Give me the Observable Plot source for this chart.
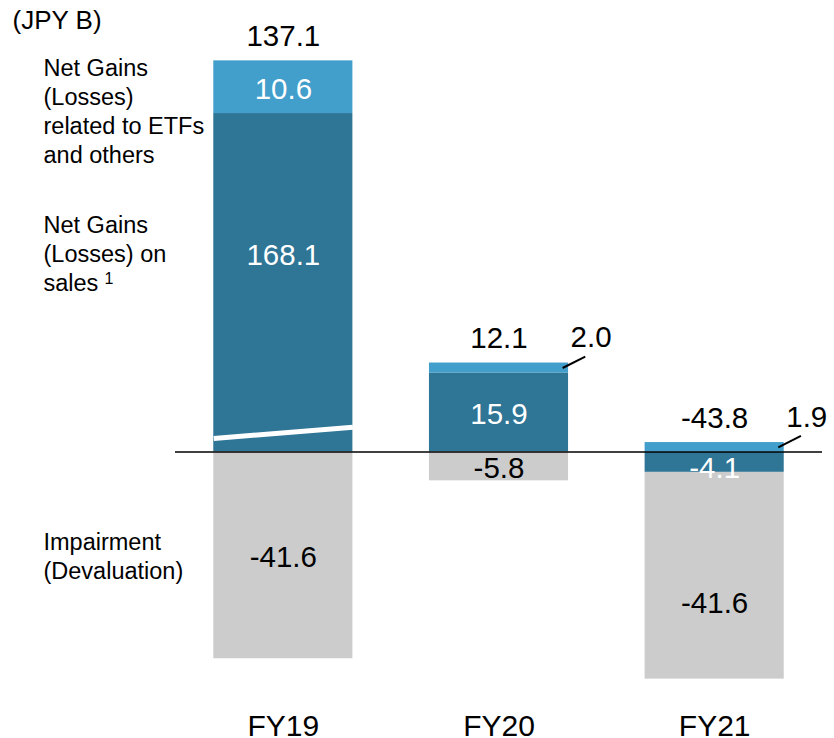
<!DOCTYPE html>
<html>
<head>
<meta charset="utf-8">
<script src="https://cdn.jsdelivr.net/npm/d3@7"></script>
<script src="https://cdn.jsdelivr.net/npm/@observablehq/plot@0.6"></script>
<style>
  html, body { margin: 0; padding: 0; background: #fff; }
  #chart svg { display: block; }
</style>
</head>
<body>
<div id="chart"></div>
<script>
// ---- data (JPY B) ----
const years = ["FY19", "FY20", "FY21"];
const salesGains = [168.1, 15.9, -4.1];   // Net Gains (Losses) on sales
const etfGains = [10.6, 2.0, 1.9];        // Net Gains (Losses) related to ETFs and others
const impairment = [-41.6, -5.8, -41.6];  // Impairment (Devaluation)
const totals = [137.1, 12.1, -43.8];

const seriesLabels = {
  etf: "Net Gains\n(Losses)\nrelated to ETFs\nand others",
  sales: "Net Gains\n(Losses) on\nsales",
  imp: "Impairment\n(Devaluation)"
};
const footnoteMark = "1";
const unitLabel = "(JPY B)";

// ---- style ----
const colors = {sales: "#2e7596", etf: "#429ecb", imp: "#cccccc"};
const halfWidth = 0.3225;
const numSize = 29.5, labelSize = 23.5, lineH = 29 / 23.5;

// diverging stack: sales, etf, impairment
const stacks = years.map((year, i) => {
  let pos = 0, neg = 0;
  const seg = {};
  for (const [key, arr] of [["sales", salesGains], ["etf", etfGains], ["imp", impairment]]) {
    const v = arr[i];
    if (v >= 0) { seg[key] = [pos, pos + v, v]; pos += v; }
    else { seg[key] = [neg, neg + v, v]; neg += v; }
  }
  return {i, year, ...seg, top: pos, bottom: neg, total: totals[i]};
});
const segRows = key => stacks.map(s => ({i: s.i, y1: s[key][0], y2: s[key][1], v: s[key][2]}));
const mid = r => (r.y1 + r.y2) / 2;
const fmt = v => v.toFixed(1);

// broken axis on FY19: values between 40 and 140 are cut out
const breakLo = 40, breakHi = 140;
const k = 4.97, zeroPx = 451.5;
const px = v => zeroPx - v * k;
const yScale = {
  transform: v => v > breakHi ? v - (breakHi - breakLo) : v > breakLo ? breakLo : v,
  domain: [-48, 80],
  range: [px(-48), px(80)],
  axis: null
};

const salesRows = segRows("sales"), etfRows = segRows("etf"), impRows = segRows("imp");
// inside labels
const inside = [
  ...salesRows.map(r => ({...r, fill: "white", dy: r.v < 0 ? 6 : 2})),
  {...etfRows[0], fill: "white", dy: 2},
  ...impRows.map(r => ({...r, fill: "black", dy: (r.i === 2 ? 28 : 2)}))
];
const outsideEtf = etfRows.filter(r => r.i > 0);

const insideMarks = inside.map(d =>
  Plot.text([d], {x: "i", y: r => mid(r), text: r => fmt(r.v), fill: d.fill, dy: d.dy, fontSize: numSize, lineAnchor: "middle"})
);

const chart = Plot.plot({
  width: 834,
  height: 738,
  marginLeft: 175,
  marginRight: 12,
  marginTop: 0,
  marginBottom: 0,
  x: {domain: [-0.5, 2.5], axis: null},
  y: yScale,
  style: {fontFamily: "'Liberation Sans', Arial, sans-serif", background: "white", color: "black"},
  marks: [
    Plot.rectY(salesRows, {x1: d => d.i - halfWidth, x2: d => d.i + halfWidth, y1: "y1", y2: "y2", fill: colors.sales}),
    Plot.rectY(etfRows, {x1: d => d.i - halfWidth, x2: d => d.i + halfWidth, y1: "y1", y2: "y2", fill: colors.etf}),
    Plot.rectY(impRows, {x1: d => d.i - halfWidth, x2: d => d.i + halfWidth, y1: "y1", y2: "y2", fill: colors.imp}),
    // axis break marker
    Plot.link([stacks[0]], {x1: d => d.i - halfWidth, x2: d => d.i + halfWidth, y1: () => 2.7, y2: () => 5.0, stroke: "white", strokeWidth: 5}),
    Plot.ruleY([0], {stroke: "black", strokeWidth: 1.5}),
    // leader lines for small ETF values
    Plot.link(outsideEtf, {x1: d => d.i + 0.295, x2: d => d.i + 0.40, y1: d => mid(d), y2: d => mid(d) + 2.3, stroke: "black", strokeWidth: 2}),
    // inside value labels
    ...insideMarks,
    // totals
    Plot.text(stacks, {x: "i", y: "top", text: d => fmt(d.total), fontSize: numSize, lineAnchor: "bottom", dy: -15, fill: "black"}),
    // small ETF values
    Plot.text(outsideEtf, {x: d => d.i + 0.427, y: "y2", text: d => fmt(d.v), fontSize: numSize, lineAnchor: "bottom", dy: -16, fill: "black"}),
    // category labels
    Plot.text(stacks, {x: "i", text: "year", frameAnchor: "bottom", lineAnchor: "bottom", dy: -3, fontSize: 30, fill: "black"}),
    // series labels on the left
    Plot.text([etfRows[0]], {y: "y2", text: () => seriesLabels.etf, frameAnchor: "left", dx: -132, textAnchor: "start", lineAnchor: "top", lineHeight: lineH, dy: -5.5, fontSize: labelSize, fill: "black"}),
    Plot.text([salesRows[0]], {y: r => mid(r), text: () => seriesLabels.sales, frameAnchor: "left", dx: -132, textAnchor: "start", lineAnchor: "middle", lineHeight: lineH, fontSize: labelSize, fill: "black"}),
    Plot.text([salesRows[0]], {y: r => mid(r), text: () => footnoteMark, frameAnchor: "left", dx: -71, textAnchor: "start", lineAnchor: "bottom", dy: 31, fontSize: 16, fill: "black"}),
    Plot.text([impRows[0]], {y: r => mid(r), text: () => seriesLabels.imp, frameAnchor: "left", dx: -132, textAnchor: "start", lineAnchor: "middle", lineHeight: lineH, fontSize: labelSize, fill: "black"}),
    Plot.text([unitLabel], {frameAnchor: "top-left", dx: -163, dy: 10, textAnchor: "start", lineAnchor: "top", fontSize: 26, fill: "black"})
  ]
});
document.getElementById("chart").appendChild(chart);
</script>
</body>
</html>
